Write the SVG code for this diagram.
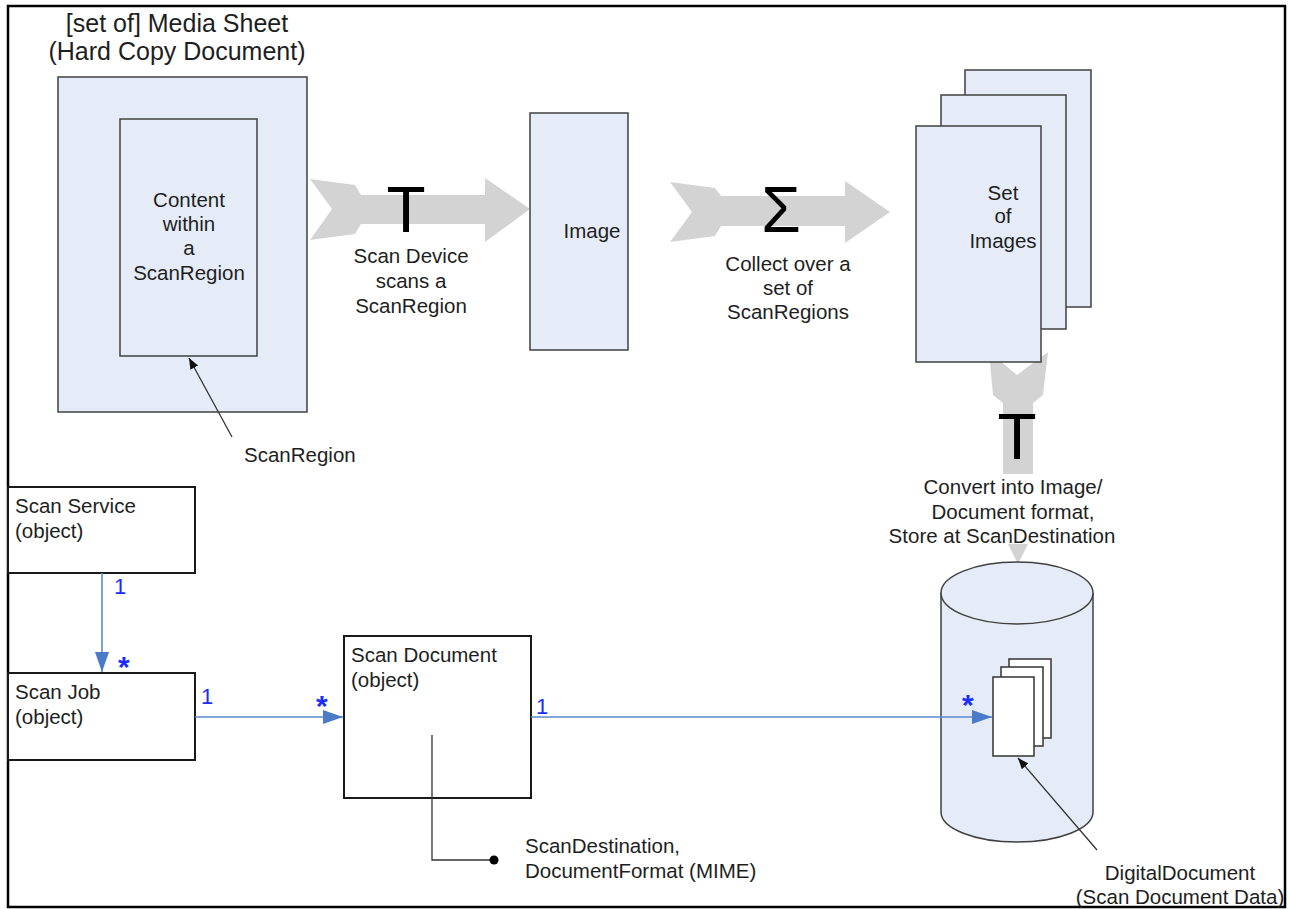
<svg xmlns="http://www.w3.org/2000/svg" width="1289" height="909" viewBox="0 0 1289 909">
  <style>
    text { font-family: "Liberation Sans", Arial, sans-serif; fill: #1e1e1e; }
    .title { font-size: 25px; text-anchor: middle; }
    .lbl { font-size: 20.5px; }
    .mid { text-anchor: middle; }
    .sheet { fill: #e5ecf7; stroke: #404040; stroke-width: 1.5; }
    .obj { fill: #ffffff; stroke: #1a1a1a; stroke-width: 2; }
    .flow { fill: #d3d3d3; stroke: none; }
    .glyph { font-size: 64px; text-anchor: middle; fill: #000; }
    .assoc { stroke: #5b8bd0; stroke-width: 1.6; fill: none; }
    .mult { fill: #1a2cff; font-size: 22px; }
    .star { fill: #1a2cff; font-size: 30px; font-weight: bold; }
    .pointer { stroke: #333; stroke-width: 1.3; fill: none; }
  </style>
  <defs>
    <marker id="blueHead" viewBox="0 0 20 14" refX="20" refY="7" markerWidth="20" markerHeight="14" markerUnits="userSpaceOnUse" orient="auto">
      <path d="M0,0 L20,7 L0,14 z" fill="#4a7bc8"/>
    </marker>
    <marker id="blackHead" viewBox="0 0 10 10" refX="10" refY="5" markerWidth="11" markerHeight="11" markerUnits="userSpaceOnUse" orient="auto">
      <path d="M0,1 L10,5 L0,9 z" fill="#111"/>
    </marker>
  </defs>

  <rect width="1289" height="909" fill="#ffffff"/>
  <rect x="8" y="6" width="1277" height="901" fill="none" stroke="#000" stroke-width="2.5"/>

  <!-- broad grey process arrows, drawn beneath the sheets -->
  <g id="process-flow">
    <polygon class="flow" points="310,179 355,185 361,195 485,195 485,178 530,209 485,242 485,224 361,224 355,234 310,240 332,209"/>
    <text class="glyph" x="406" y="232">T</text>
    <polygon class="flow" points="670,182 715,188 721,196 845,196 845,181 890,212 845,243 845,226 721,226 715,236 670,242 692,212"/>
    <text class="glyph" x="781" y="232" font-size="58">Σ</text>
    <polygon class="flow" points="989,352 1017,375 1048,352 1043,395 1033,403 1033,500 1050,500 1018,564 986,500 1003,500 1003,403 993,395"/>
    <text class="glyph" x="1017" y="459">T</text>
  </g>

  <g id="media-sheet">
    <text class="title" x="177" y="32">[set of] Media Sheet</text>
    <text class="title" x="177" y="60">(Hard Copy Document)</text>
    <rect class="sheet" x="58" y="77" width="249" height="335"/>
    <rect class="sheet" x="120" y="119" width="137" height="237"/>
    <text class="lbl mid" x="189" y="207">Content</text>
    <text class="lbl mid" x="189" y="231">within</text>
    <text class="lbl mid" x="189" y="255">a</text>
    <text class="lbl mid" x="189" y="280">ScanRegion</text>
    <text class="lbl" x="244" y="462">ScanRegion</text>
  </g>

  <g id="scan-labels">
    <text class="lbl mid" x="411" y="263">Scan Device</text>
    <text class="lbl mid" x="411" y="288">scans a</text>
    <text class="lbl mid" x="411" y="313">ScanRegion</text>
    <text class="lbl mid" x="788" y="271">Collect over a</text>
    <text class="lbl mid" x="788" y="295">set of</text>
    <text class="lbl mid" x="788" y="319">ScanRegions</text>
  </g>

  <g id="image">
    <rect class="sheet" x="530" y="113" width="98" height="237"/>
    <text class="lbl mid" x="592" y="238">Image</text>
  </g>

  <g id="set-of-images">
    <rect class="sheet" x="965" y="70" width="126" height="237"/>
    <rect class="sheet" x="941" y="95" width="125" height="234"/>
    <rect class="sheet" x="916" y="126" width="125" height="236"/>
    <text class="lbl mid" x="1003" y="200">Set</text>
    <text class="lbl mid" x="1003" y="223">of</text>
    <text class="lbl mid" x="1003" y="248">Images</text>
  </g>

  <g id="convert-label">
    <rect x="888" y="474" width="232" height="70" fill="#ffffff"/>
    <text class="lbl mid" x="1013" y="494">Convert into Image/</text>
    <text class="lbl mid" x="1013" y="519">Document format,</text>
    <text class="lbl mid" x="1002" y="543">Store at ScanDestination</text>
  </g>

  <g id="scan-destination">
    <path class="sheet" d="M941,593 L941,812 A76,30 0 0 0 1093,812 L1093,593"/>
    <ellipse class="sheet" cx="1017" cy="593" rx="76" ry="31"/>
    <rect x="1009" y="659" width="42" height="79" fill="#fff" stroke="#333" stroke-width="1.5"/>
    <rect x="1001" y="667" width="42" height="79" fill="#fff" stroke="#333" stroke-width="1.5"/>
    <rect x="993" y="677" width="41" height="79" fill="#fff" stroke="#333" stroke-width="1.5"/>
    <text class="lbl mid" x="1180" y="880">DigitalDocument</text>
    <text class="lbl mid" x="1180" y="904">(Scan Document Data)</text>
  </g>

  <g id="scan-service">
    <rect class="obj" x="8" y="487" width="187" height="86"/>
    <text class="lbl" x="15" y="513">Scan Service</text>
    <text class="lbl" x="15" y="538">(object)</text>
  </g>

  <g id="scan-job">
    <rect class="obj" x="8" y="673" width="187" height="87"/>
    <text class="lbl" x="15" y="699">Scan Job</text>
    <text class="lbl" x="15" y="724">(object)</text>
  </g>

  <g id="scan-document">
    <rect class="obj" x="344" y="636" width="187" height="162"/>
    <text class="lbl" x="351" y="662">Scan Document</text>
    <text class="lbl" x="351" y="687">(object)</text>
    <text class="lbl" x="525" y="853">ScanDestination,</text>
    <text class="lbl" x="525" y="878">DocumentFormat (MIME)</text>
  </g>

  <!-- associations and annotation pointers -->
  <g id="connectors">
    <line class="pointer" x1="232" y1="437" x2="189" y2="358" marker-end="url(#blackHead)"/>
    <line class="pointer" x1="1097" y1="850" x2="1018" y2="758" marker-end="url(#blackHead)"/>

    <line class="assoc" x1="102" y1="573" x2="102" y2="672" marker-end="url(#blueHead)"/>
    <line class="assoc" x1="195" y1="717" x2="343" y2="717" marker-end="url(#blueHead)"/>
    <line class="assoc" x1="531" y1="717" x2="992" y2="717" marker-end="url(#blueHead)"/>

    <polyline points="432,735 432,860 494,860" fill="none" stroke="#333" stroke-width="1.3"/>
    <circle cx="494" cy="860" r="4.5" fill="#000"/>
  </g>

  <g id="multiplicities">
    <text class="mult" x="114" y="594">1</text>
    <text class="star" x="118" y="677">*</text>
    <text class="mult" x="201" y="704">1</text>
    <text class="star" x="316" y="716">*</text>
    <text class="mult" x="536" y="714">1</text>
    <text class="star" x="962" y="715">*</text>
  </g>
</svg>
